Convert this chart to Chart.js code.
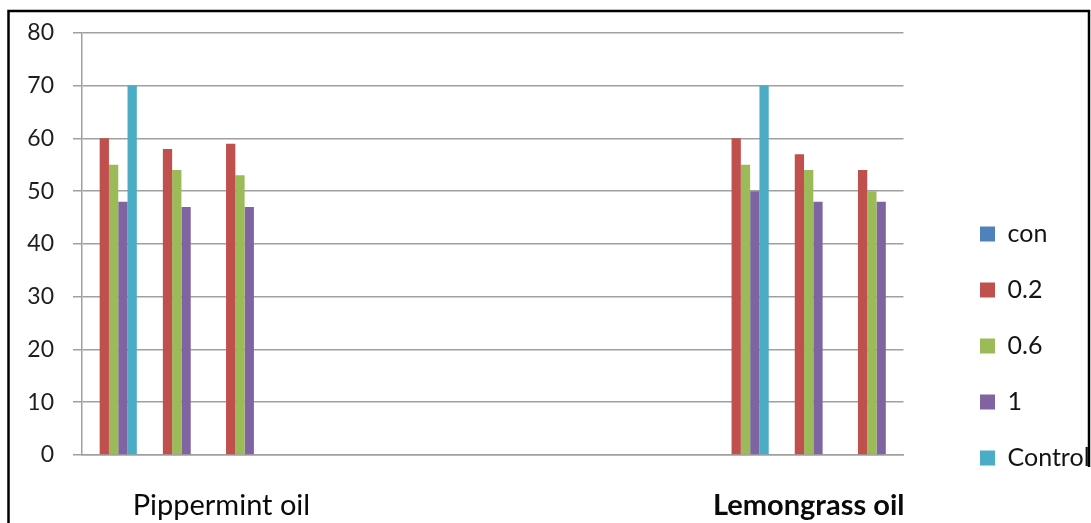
<!DOCTYPE html>
<html>
<head>
<meta charset="utf-8">
<script src="https://cdn.jsdelivr.net/npm/chart.js@4/dist/chart.umd.min.js"></script>
<style>
  html, body { margin: 0; padding: 0; background: #ffffff; }
  #wrap { width: 1091px; height: 523px; }
</style>
</head>
<body>
<div id="wrap"><canvas id="chart" width="1091" height="523"></canvas></div>
<script>
// Category slots along the x axis; only two carry a label
const categories = ['', '', 'Pippermint oil     ', '', '', '', '', '', '', '', '', 'Lemongrass oil', ''];
const boldCategory = 11;

// Series values per category slot
const seriesNames = ['con', '0.2', '0.6', '1', 'Control'];
const conValues     = [null, null, null, null, null, null, null, null, null, null, null, null, null];
const values02      = [60, 58, 59, null, null, null, null, null, null, null, 60, 57, 54];
const values06      = [55, 54, 53, null, null, null, null, null, null, null, 55, 54, 50];
const values1       = [48, 47, 47, null, null, null, null, null, null, null, 50, 48, 48];
const controlValues = [70, null, null, null, null, null, null, null, null, null, 70, null, null];

// Y axis range and step
const yMin = 0, yMax = 80, yStep = 10;

const colors = ['#4F81BD', '#C0504D', '#9BBB59', '#8064A2', '#4BACC6'];
const gridColor = '#a0a0a0';

// Draws the outer frame around the figure
const framePlugin = {
  id: 'frame',
  afterDraw(chart) {
    const ctx = chart.ctx;
    ctx.save();
    ctx.strokeStyle = '#000000';
    ctx.lineWidth = 2.5;
    ctx.beginPath();
    ctx.moveTo(8.5, 523);
    ctx.lineTo(8.5, 11);
    ctx.lineTo(1089, 11);
    ctx.lineTo(1089, 467);
    ctx.stroke();
    ctx.restore();
  }
};

// Places the legend column to the right of the plot
const legendX = 980, legendMidY = 346;
const legendPlace = {
  id: 'legendPlace',
  afterLayout(chart) {
    const lg = chart.legend;
    if (!lg) return;
    const pad = lg.options.labels.padding;
    const w = lg.right - lg.left;
    const h = lg.bottom - lg.top;
    lg.left = legendX - pad;
    lg.right = lg.left + w;
    lg.top = legendMidY - h / 2;
    lg.bottom = lg.top + h;
  }
};

const datasets = [conValues, values02, values06, values1, controlValues].map((vals, i) => ({
  label: seriesNames[i],
  data: vals,
  backgroundColor: colors[i],
  borderWidth: 0,
  categoryPercentage: 0.735,
  barPercentage: 1.0
}));

new Chart(document.getElementById('chart'), {
  type: 'bar',
  data: { labels: categories, datasets },
  options: {
    responsive: false,
    animation: false,
    layout: { padding: { top: 29, right: 37, bottom: 0, left: 0 } },
    plugins: {
      legend: {
        position: 'right',
        labels: {
          font: { family: 'Lato', size: 25 },
          color: '#141414',
          boxWidth: 15,
          boxHeight: 15,
          padding: 31
        }
      },
      tooltip: { enabled: false }
    },
    scales: {
      x: {
        grid: { display: false, drawTicks: false },
        border: { display: true, color: gridColor, width: 1.5 },
        ticks: {
          autoSkip: false,
          maxRotation: 0,
          padding: 33,
          color: '#0a0a0a',
          font: (ctx) => ({ family: 'Lato', size: 29, weight: ctx.index === boldCategory ? 'bold' : 'normal' })
        },
        afterFit(scale) { scale.height = 68; }
      },
      y: {
        min: yMin,
        max: yMax,
        grid: { color: gridColor, lineWidth: 1.5, tickLength: 9, drawTicks: true },
        border: { display: true, color: gridColor, width: 1.5 },
        ticks: {
          stepSize: yStep,
          padding: 19,
          color: '#1e1e1e',
          font: { family: 'Lato', size: 23 }
        },
        afterFit(scale) { scale.width = 82; }
      }
    }
  },
  plugins: [framePlugin, legendPlace]
});
</script>
</body>
</html>
